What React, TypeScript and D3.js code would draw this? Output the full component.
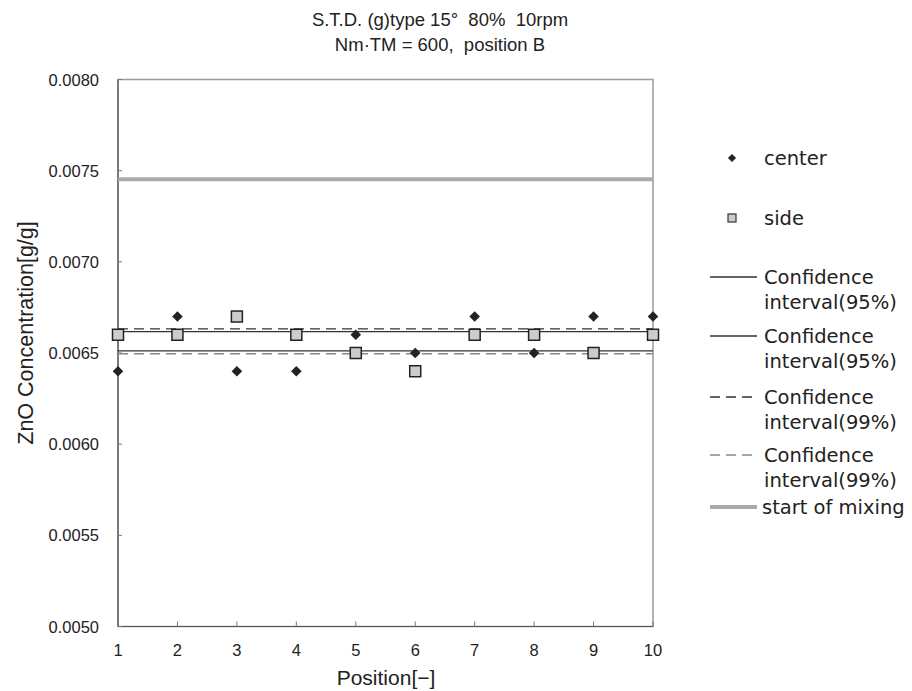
import React from "react";
import * as d3 from "d3";

const positions = [1, 2, 3, 4, 5, 6, 7, 8, 9, 10];
const centerValues = [0.0064, 0.0067, 0.0064, 0.0064, 0.0066, 0.0065, 0.0067, 0.0065, 0.0067, 0.0067];
const sideValues = [0.0066, 0.0066, 0.0067, 0.0066, 0.0065, 0.0064, 0.0066, 0.0066, 0.0065, 0.0066];
const ci95Upper = 0.006617;
const ci95Lower = 0.006512;
const ci99Upper = 0.006632;
const ci99Lower = 0.006496;
const startOfMixing = 0.007453;
const yTicks = [0.005, 0.0055, 0.006, 0.0065, 0.007, 0.0075, 0.008];
const titleLines = ["S.T.D. (g)type 15°  80%  10rpm", "Nm·TM = 600,  position B"];

const W = 912;
const H = 691;
const left = 118;
const right = 653;
const top = 79.5;
const bottom = 626.5;

const x = d3.scaleLinear().domain([1, 10]).range([left, right]);
const y = d3.scaleLinear().domain([0.005, 0.008]).range([bottom, top]);

const levelLine = (v: number) =>
  d3.line<number>().x((p) => x(p)).y(() => y(v))(positions) || "";

const diamond = d3.symbol().type(d3.symbolSquare).size(56)() || "";
const diamondSmall = d3.symbol().type(d3.symbolSquare).size(34)() || "";

const FONT = "'Liberation Sans', Arial, sans-serif";
const LFONT = "'DejaVu Sans', sans-serif";

const lineSeries = [
  { v: ci95Upper, label: ["Confidence", "interval(95%)"], stroke: "#333", width: 1.3, dash: "" },
  { v: ci95Lower, label: ["Confidence", "interval(95%)"], stroke: "#333", width: 1.3, dash: "" },
  { v: ci99Upper, label: ["Confidence", "interval(99%)"], stroke: "#333", width: 1.3, dash: "10,6" },
  { v: ci99Lower, label: ["Confidence", "interval(99%)"], stroke: "#888", width: 1.5, dash: "10,6" },
  { v: startOfMixing, label: ["start of mixing"], stroke: "#aaa", width: 4, dash: "" },
];
const legendLineY = [277, 336, 397, 455, 507];

export default function App() {
  return (
    <svg
      width={W}
      height={H}
      style={{ position: "absolute", left: 0, top: 0, background: "#fff" }}
    >
      {/* title */}
      {titleLines.map((t, i) => (
        <text
          key={i}
          x={440}
          y={19 + i * 25}
          textAnchor="middle"
          dominantBaseline="central"
          fontFamily={FONT}
          fontSize={18.5}
          fill="#222"
          style={{ whiteSpace: "pre" }}
        >
          {t}
        </text>
      ))}

      {/* plot frame */}
      <rect x={left} y={top} width={right - left} height={bottom - top} fill="none" stroke="#999" strokeWidth={1.5} />
      <line x1={left} x2={left} y1={top} y2={bottom} stroke="#555" strokeWidth={1.2} />
      <line x1={left} x2={right} y1={bottom} y2={bottom} stroke="#555" strokeWidth={1.2} />

      {/* y ticks */}
      {yTicks.map((t) => (
        <g key={t}>
          <line x1={left} x2={left + 4} y1={y(t)} y2={y(t)} stroke="#777" strokeWidth={1} />
          <text
            x={99}
            y={y(t)}
            textAnchor="end"
            dominantBaseline="central"
            fontFamily={FONT}
            fontSize={16.5}
            fill="#222"
          >
            {t.toFixed(4)}
          </text>
        </g>
      ))}

      {/* x ticks */}
      {positions.map((p) => (
        <g key={p}>
          <line x1={x(p)} x2={x(p)} y1={bottom} y2={bottom - 5} stroke="#777" strokeWidth={1} />
          <text
            x={x(p)}
            y={650}
            textAnchor="middle"
            dominantBaseline="central"
            fontFamily={FONT}
            fontSize={16.5}
            fill="#222"
          >
            {p}
          </text>
        </g>
      ))}

      {/* axis titles */}
      <text x={386} y={677} textAnchor="middle" dominantBaseline="central" fontFamily={FONT} fontSize={21} fill="#222">
        Position[−]
      </text>
      <text
        transform={`translate(26, ${(top + bottom) / 2 - 20}) rotate(-90)`}
        textAnchor="middle"
        dominantBaseline="central"
        fontFamily={FONT}
        fontSize={21.5}
        fill="#222"
      >
        ZnO Concentration[g/g]
      </text>

      {/* level lines */}
      {lineSeries.map((s, i) => (
        <path key={i} d={levelLine(s.v)} fill="none" stroke={s.stroke} strokeWidth={s.width} strokeDasharray={s.dash} />
      ))}

      {/* side squares */}
      {positions.map((p, i) => (
        <rect
          key={"s" + p}
          x={x(p) - 5.5}
          y={y(sideValues[i]) - 5.5}
          width={11}
          height={11}
          fill="#ccc"
          stroke="#222"
          strokeWidth={1.5}
        />
      ))}
      {/* center diamonds */}
      {positions.map((p, i) => (
        <path
          key={"c" + p}
          d={diamond}
          transform={`translate(${x(p)}, ${y(centerValues[i])}) rotate(45)`}
          fill="#222"
        />
      ))}

      {/* legend */}
      <path d={diamondSmall} transform="translate(732, 158) rotate(45)" fill="#222" />
      <text x={764} y={158} dominantBaseline="central" fontFamily={LFONT} fontSize={19.5} fill="#222">
        center
      </text>
      <rect x={728} y={214} width={8} height={8} fill="#ccc" stroke="#333" strokeWidth={1.2} />
      <text x={764} y={218} dominantBaseline="central" fontFamily={LFONT} fontSize={19.5} fill="#222">
        side
      </text>
      {lineSeries.map((s, i) => (
        <g key={"l" + i}>
          <line
            x1={710}
            x2={757}
            y1={legendLineY[i]}
            y2={legendLineY[i]}
            stroke={s.stroke}
            strokeWidth={s.width}
            strokeDasharray={s.dash}
          />
          {s.label.map((t, j) => (
            <text
              key={j}
              x={i === 4 ? 762 : 764}
              y={legendLineY[i] + j * 25}
              dominantBaseline="central"
              fontFamily={LFONT}
              fontSize={19.5}
              fill="#222"
            >
              {t}
            </text>
          ))}
        </g>
      ))}
    </svg>
  );
}
